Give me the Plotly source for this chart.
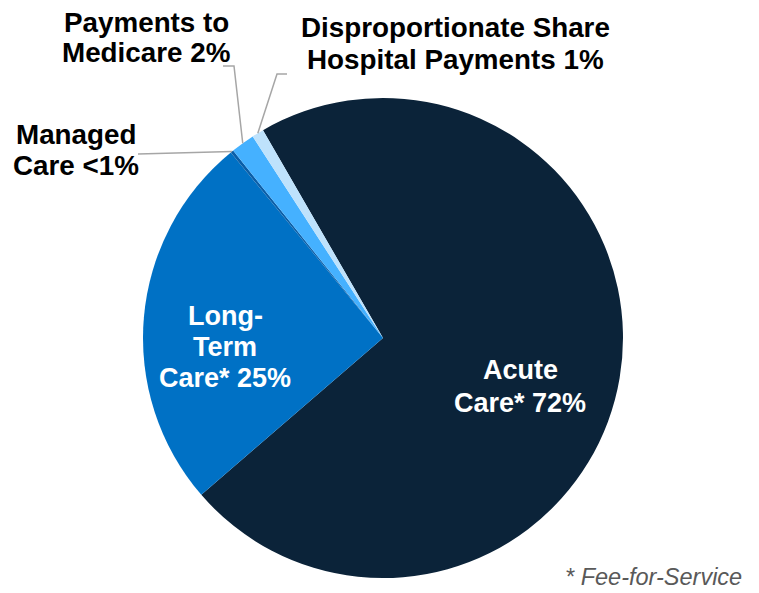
import math
import plotly.graph_objects as go

# ---- data ----
categories = ["Acute Care*", "Long-Term Care*", "Managed Care", "Payments to Medicare",
              "Disproportionate Share Hospital Payments"]
shares = [72.0, 25.4, 0.2, 1.6, 0.8]
label_lines = [["Acute", "Care* 72%"],
               ["Long-", "Term", "Care* 25%"],
               ["Managed", "Care <1%"],
               ["Payments to", "Medicare 2%"],
               ["Disproportionate Share", "Hospital Payments 1%"]]
footnote = "* Fee-for-Service"

# ---- style ----
colors = ["#0B2339", "#0071C5", "#0A5EA8", "#45B1FF", "#BEE2FC"]
W, H = 759, 593
cx_px, cy_px, r_px = 383, 338, 240
rotation = -30
dom_x = [(cx_px - r_px) / W, (cx_px + r_px) / W]
dom_y = [(H - cy_px - r_px) / H, (H - cy_px + r_px) / H]

fig = go.Figure(go.Pie(
    labels=categories, values=shares, sort=False, direction="clockwise",
    rotation=rotation, marker=dict(colors=colors, line=dict(width=0)),
    textinfo="none", hoverinfo="label+percent", showlegend=False,
    domain=dict(x=dom_x, y=dom_y),
))

def px2paper(x, y):
    return x / W, 1 - y / H

# slice mid-point on the rim, computed from the data
total = sum(shares)
angles = []
cum = 0.0
for v in shares:
    mid = rotation + (cum + v / 2) / total * 360
    angles.append(math.radians(mid))
    cum += v

def rim(i):
    a = angles[i]
    return cx_px + r_px * math.sin(a), cy_px - r_px * math.cos(a)

FAM = "Liberation Sans, Arial"
annots = []
def add_block(lines, cx, baselines, size, color):
    for txt, base in zip(lines, baselines):
        px, py = px2paper(cx, base - 0.35 * size)
        annots.append(dict(text="<b>" + txt + "</b>", x=px, y=py, xref="paper", yref="paper",
                           xanchor="center", yanchor="middle", showarrow=False,
                           font=dict(family=FAM, size=size, color=color)))

add_block(label_lines[0], 520, [379, 412], 27, "#FFFFFF")
add_block(label_lines[1], 225, [325, 356, 387], 27, "#FFFFFF")
add_block(label_lines[2], 76, [144, 175], 27.8, "#000000")
add_block(label_lines[3], 146, [32, 62], 27.8, "#000000")
add_block(label_lines[4], 455, [37, 69], 27.8, "#000000")

fx, fy = px2paper(744, 585 - 0.35 * 23.5)
annots.append(dict(text="<i>" + footnote + "</i>", x=fx, y=fy, xref="paper", yref="paper",
                   xanchor="right", yanchor="middle", showarrow=False,
                   font=dict(family=FAM, size=23.5, color="#595959")))

# leader lines
line_style = dict(color="#A6A6A6", width=1.5)
shapes = []
def leader(points):
    path = ""
    for k, (x, y) in enumerate(points):
        px, py = px2paper(x, y)
        path += ("M" if k == 0 else "L") + f"{px},{py} "
    shapes.append(dict(type="path", path=path.strip(), xref="paper", yref="paper", line=line_style))

leader([(138, 154), rim(2)])
leader([(223, 66), (234, 66), rim(3)])
leader([(287, 74), (277, 74), rim(4)])

fig.update_layout(width=W, height=H, margin=dict(l=0, r=0, t=0, b=0),
                  paper_bgcolor="white", plot_bgcolor="white",
                  annotations=annots, shapes=shapes)
fig.write_html("out.html", config={"displayModeBar": False},
               post_script="document.body.style.margin='0px';")
